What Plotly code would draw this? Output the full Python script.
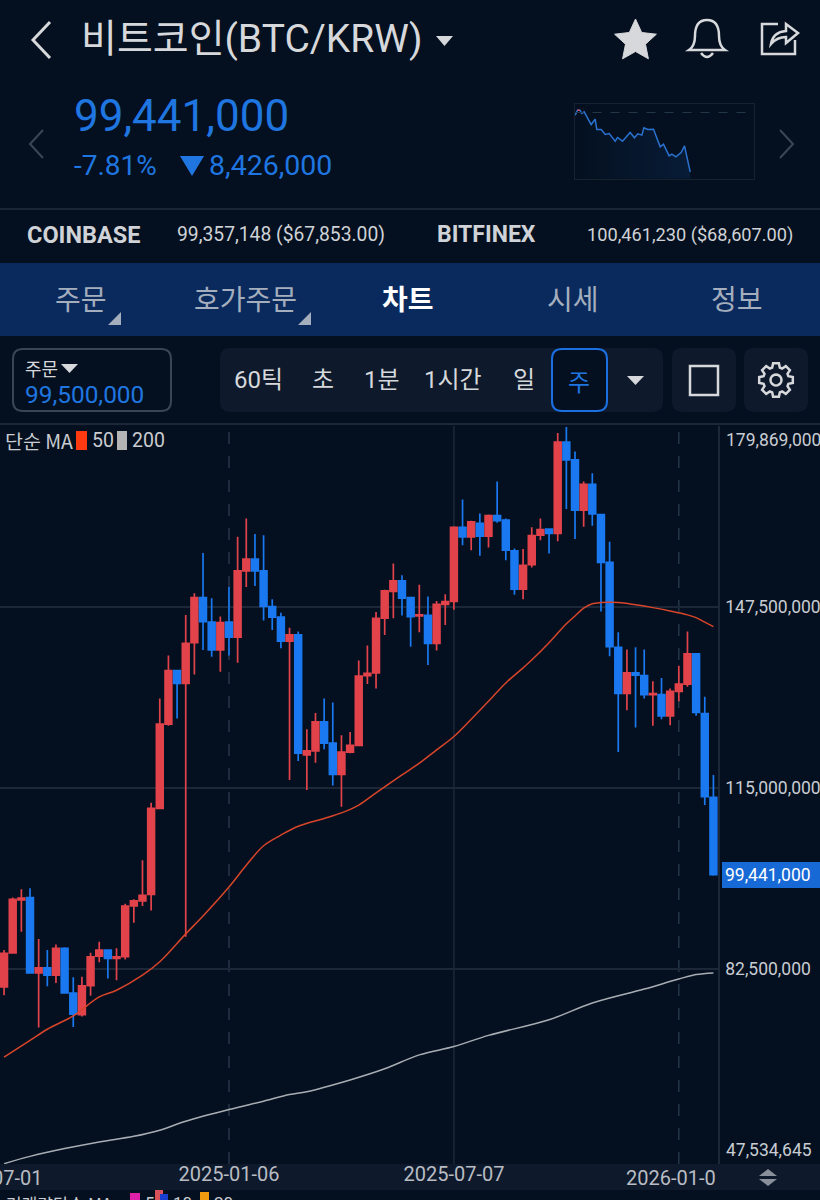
import re
import numpy as np
import pandas as pd
import plotly.graph_objects as go

# weekly candles, million KRW
week_dates = pd.date_range("2024-07-08", periods=83, freq="7D")
opens = [79.3,85.4,94.9,95.3,81.8,82.7,81.4,86.2,78.2,74.3,
         79.5,84.8,85.9,84.4,84.7,93.8,94.7,95.9,111.3,126.4,
         136.0,133.7,141.0,149.1,144.7,139.7,144.7,142.0,153.9,156.0,
         153.9,147.5,145.6,141.3,142.4,120.9,121.6,126.8,123.0,117.4,
         121.4,122.6,135.1,135.6,145.4,150.2,152.1,149.1,145.8,145.9,
         140.9,147.9,148.4,161.7,160.0,162.4,160.1,163.8,163.0,157.5,
         150.6,155.0,160.3,161.4,160.6,177.0,173.8,164.8,169.4,164.0,
         155.4,140.2,131.9,135.6,135.1,131.7,131.7,127.9,132.3,133.6,
         139.0,128.3,113.3]
highs = [85.9,95.3,96.8,97.0,87.9,85.9,86.9,86.4,81.0,81.1,
         85.4,87.4,85.9,86.2,94.2,95.0,102.0,112.3,131.0,138.7,
         136.0,146.0,149.9,157.1,149.0,145.7,151.0,160.0,163.3,160.5,
         160.3,148.8,146.4,143.7,143.0,125.5,128.4,131.0,130.3,124.4,
         125.0,137.8,140.5,146.5,150.5,155.2,153.1,149.1,151.4,149.3,
         148.5,149.7,161.9,166.7,162.9,164.2,164.0,169.9,163.3,157.9,
         157.8,161.7,163.3,161.4,178.6,179.7,175.3,169.9,171.4,164.0,
         159.1,142.9,139.8,140.2,139.8,134.1,134.7,132.8,136.9,143.0,
         139.0,131.3,117.3]
lows = [77.8,85.3,89.2,81.7,72.0,79.4,80.0,78.2,72.1,74.0,
        77.7,83.7,80.8,80.5,84.2,90.8,93.8,93.0,111.3,126.1,
        127.4,88.3,135.3,139.7,138.5,135.8,138.7,137.4,151.0,151.2,
        145.0,143.3,140.0,116.4,119.8,114.6,119.5,121.9,115.4,111.6,
        121.2,122.6,133.6,132.8,142.4,145.4,145.9,140.3,142.9,137.0,
        139.6,144.2,146.9,158.5,157.6,156.6,158.1,162.5,155.8,149.6,
        148.8,154.5,159.4,157.0,159.2,165.0,159.6,161.8,162.0,146.6,
        138.6,121.4,128.9,125.8,131.0,126.1,127.3,126.2,130.5,133.1,
        127.9,111.9,99.2]
closes = [85.3,95.0,95.2,81.8,82.7,81.4,86.2,78.2,74.4,79.5,
          84.7,85.9,84.4,84.7,93.8,94.7,95.7,111.3,126.4,136.0,
          133.7,140.9,149.1,144.8,139.7,144.6,142.0,153.9,156.0,153.9,
          147.5,145.6,141.3,142.4,121.2,121.6,126.8,123.0,117.4,121.4,
          122.6,135.0,135.5,145.4,150.3,152.1,149.0,145.7,146.0,140.9,
          147.9,148.4,161.7,160.0,162.7,160.1,163.8,162.9,157.6,150.6,
          154.9,160.2,161.3,160.6,177.0,173.8,164.8,169.4,164.1,155.4,
          140.3,131.9,135.6,135.2,131.7,131.9,127.9,132.3,133.6,139.0,
          128.5,113.4,99.441]

# moving averages, read at these candle numbers
ma50_weeks = [0,3,5,8,11,13,16,18,21,23,26,28,30,32,34,37,39,41,43,46,48,50,52,54,56,58,60,61,63,65,66,67,68,69,71,73,75,77,79,80,81,82]
ma50_vals = [66.7,69.7,71.7,74.1,77.5,78.7,81.4,83.8,88.8,92.0,97.2,101.1,104.6,106.5,108.1,109.5,110.5,111.9,114.1,117.3,119.4,121.8,124.2,127.3,130.5,133.8,136.5,137.9,141.0,144.4,145.8,147.2,148.0,148.2,148.2,147.8,147.3,146.7,146.0,145.5,144.7,143.9]
ma200_weeks = [0,3,7,11,15,18,21,26,30,33,35,40,44,48,52,56,63,68,74,78,80,82]
ma200_vals = [47.6,48.9,50.3,51.5,52.5,53.6,55.2,57.3,58.8,60.0,60.5,62.6,64.6,67.1,68.6,70.6,73.4,76.4,78.9,80.7,81.5,81.8]

price_ticks = [147500000, 115000000, 82500000]
axis_top = 179869000
axis_bottom = 47534645
last_price = 99441000
date_ticks = ["2025-01-06", "2025-07-07"]
dashed_dates = ["2025-01-06", "2026-01-05"]
solid_dates = ["2025-07-07"]

# mini chart top right, hours into the session and price in million KRW
spark_hours = [0.09,0.40,0.72,0.98,1.30,1.65,2.23,2.77,2.99,3.58,4.11,4.65,5.45,5.77,6.44,7.46,8.04,8.49,9.03,9.30,9.83,10.59,11.49,11.93,12.69,13.05,13.59,14.30,14.75,15.51]
spark_vals = [107.49,108.20,108.20,107.73,107.96,107.25,106.16,106.92,105.45,105.45,104.74,104.88,103.80,104.32,103.80,105.03,104.27,104.84,104.65,105.69,105.45,105.50,102.99,103.37,101.71,101.95,101.57,102.19,103.13,99.44]
spark_base = 107.867

BG = "#04101f"
GRID = "#1c2838"
RED = "#e2434b"
BLUE = "#1a78f0"
TXT_BLUE = "#1f76e0"
LIGHT = "#d6d8db"
FONT = "Roboto, 'Noto Sans CJK KR'"
KR = "'Noto Sans CJK KR'"

W, H = 820, 1200


def px(x):
    return x / W


def py(y):
    return 1 - y / H


def path_px(d):
    # turn a path written in screen pixels into paper coordinates
    out = []
    is_x = True
    for tok in re.findall(r"[A-Za-z]|-?[\d.]+", d):
        if tok.isalpha():
            out.append(tok)
            is_x = True
        else:
            out.append(f"{px(float(tok)):.5f}" if is_x else f"{py(float(tok)):.5f}")
            is_x = not is_x
    return " ".join(out)


def round_rect(x0, y0, x1, y1, r):
    return (f"M {x0+r} {y0} L {x1-r} {y0} Q {x1} {y0} {x1} {y0+r} L {x1} {y1-r} Q {x1} {y1} {x1-r} {y1} "
            f"L {x0+r} {y1} Q {x0} {y1} {x0} {y1-r} L {x0} {y0+r} Q {x0} {y0} {x0+r} {y0} Z")


shapes = []
notes = []


def add_path(d, fill=None, line=None, width=0, layer="above"):
    shapes.append(dict(type="path", xref="paper", yref="paper", path=path_px(d), layer=layer,
                       fillcolor=fill or "rgba(0,0,0,0)",
                       line=dict(color=line or "rgba(0,0,0,0)", width=width)))


def add_rect(x0, y0, x1, y1, fill, layer="below"):
    shapes.append(dict(type="rect", xref="paper", yref="paper", x0=px(x0), x1=px(x1), y0=py(y1), y1=py(y0),
                       fillcolor=fill, line=dict(width=0), layer=layer))


def add_text(x, y, s, size, color=LIGHT, anchor="left", font=FONT, bold=False):
    notes.append(dict(xref="paper", yref="paper", x=px(x), y=py(y), text=f"<b>{s}</b>" if bold else s,
                      showarrow=False, xanchor=anchor, yanchor="middle", borderpad=0,
                      font=dict(family=font, size=size, color=color)))


# page bands
add_rect(0, 208, 820, 210, "#1a2636")
add_rect(0, 263, 820, 336, "#0a2a5e")
add_rect(0, 423, 820, 425, GRID)
add_rect(0, 1164, 820, 1190, "#0e1a2c")
add_rect(722, 862, 820, 888, "#1769d6", layer="above")

# header
add_path("M 50 22 L 33 40 L 50 58", line=LIGHT, width=3)
add_text(80, 39, "비트코인(BTC/KRW)", 39)
add_path("M 436 36 L 453 36 L 444.5 46 Z", fill=LIGHT)
add_text(73, 116, "99,441,000", 44, TXT_BLUE)
add_text(73, 166, "-7.81%", 28, TXT_BLUE)
add_path("M 180 156 L 204 156 L 192 176 Z", fill=TXT_BLUE)
add_text(208, 166, "8,426,000", 28.5, TXT_BLUE)
add_path("M 43 130 L 30 144 L 43 158", line="#3b4656", width=2)
add_path("M 780 130 L 793 144 L 780 158", line="#3b4656", width=2)

# star, bell, share icons
star_pts = []
for k in range(10):
    r = 22 if k % 2 == 0 else 10.5
    a = -np.pi / 2 + k * np.pi / 5
    star_pts.append((635.5 + r * np.cos(a), 41 + r * np.sin(a)))
add_path("M " + " L ".join(f"{a:.1f} {b:.1f}" for a, b in star_pts) + " Z", fill=LIGHT, line=LIGHT, width=1)
add_path("M 689 50 Q 695 46 695 36 Q 695 20 707 20 Q 719 20 719 36 Q 719 46 725 50 Z", line=LIGHT, width=2.5)
add_path("M 701 53 Q 707 61 713 53", line=LIGHT, width=2.5)
add_path("M 778 24 L 762 24 L 762 54 L 795 54 L 795 40", line=LIGHT, width=2.5)
add_path("M 771 44 Q 773 32 786 31 L 786 24 L 798 33 L 786 43 L 786 37 Q 777 37 771 44 Z", line=LIGHT, width=2.5)

# exchange row
add_text(26, 235, "COINBASE", 23.5, "#cfd2d6", bold=True)
add_text(176, 235, "99,357,148 ($67,853.00)", 19.3, "#cfd2d6")
add_text(436, 235, "BITFINEX", 23, "#cfd2d6", bold=True)
add_text(794, 235, "100,461,230 ($68,607.00)", 18.2, "#cfd2d6", anchor="right")

# tabs
tab_names = ["주문", "호가주문", "차트", "시세", "정보"]
tab_centers = [81, 245, 408, 573, 737]
for name, cx in zip(tab_names, tab_centers):
    on = name == "차트"
    add_text(cx, 298, name, 28, "#ffffff" if on else "#a4aebd", anchor="center", font=KR, bold=on)
add_path("M 108 325 L 121 325 L 121 312 Z", fill="#a4aebd")
add_path("M 298 325 L 311 325 L 311 312 Z", fill="#a4aebd")

# toolbar
add_path(round_rect(13, 349, 171, 411, 10), line="#3a4452", width=2)
add_text(24, 368, "주문", 18, LIGHT, font=KR)
add_path("M 61 364 L 78 364 L 69.5 373 Z", fill=LIGHT)
add_text(24, 394, "99,500,000", 24.4, TXT_BLUE)
add_path(round_rect(220, 348, 663, 412, 10), fill="#0e1a2c")
add_path(round_rect(672, 348, 736, 412, 10), fill="#0e1a2c")
add_path(round_rect(744, 348, 808, 412, 10), fill="#0e1a2c")
add_path(round_rect(552, 349, 607, 411, 10), fill=BG, line="#1b6fe0", width=2)
for name, cx in zip(["60틱", "초", "1분", "1시간", "일"], [258, 323, 382, 453, 524]):
    add_text(cx, 380, name, 24, LIGHT, anchor="center", font=FONT)
add_text(579, 380, "주", 24, TXT_BLUE, anchor="center", font=KR)
add_path("M 627 376 L 644 376 L 635.5 385 Z", fill=LIGHT)
add_path("M 690 366 L 718 366 L 718 395 L 690 395 Z", line=LIGHT, width=2.5)

# gear icon
gear_pts = []
for k in range(8):
    a = k * np.pi / 4 - np.pi / 2
    for da, r in [(-0.30, 13), (-0.17, 17), (0.17, 17), (0.30, 13)]:
        gear_pts.append((776 + r * np.cos(a + da), 380 + r * np.sin(a + da)))
add_path("M " + " L ".join(f"{a:.1f} {b:.1f}" for a, b in gear_pts) + " Z", line=LIGHT, width=2.5)
hole = [(776 + 5.5 * np.cos(t), 380 + 5.5 * np.sin(t)) for t in np.linspace(0, 2 * np.pi, 17)[:-1]]
add_path("M " + " L ".join(f"{a:.1f} {b:.1f}" for a, b in hole) + " Z", line=LIGHT, width=2.5)

# MA legend
add_text(4, 440, "단순 MA", 19.5, "#c9ccd0", font=KR)
add_rect(76, 431, 87, 450, "#ff3a10")
add_text(91, 440, "50", 19.5, "#c9ccd0")
add_rect(117, 431, 127, 450, "#b5b5b5")
add_text(131, 440, "200", 19.5, "#c9ccd0")

# bottom bar
add_text(44, 1178, "07-01", 20, "#b9bdc3", anchor="right")
add_text(717, 1178, "2026-01-0", 20, "#b9bdc3", anchor="right")
add_path("M 768 1169 L 777 1176 L 759 1176 Z", fill="#8a9099")
add_path("M 759 1179 L 777 1179 L 768 1186 Z", fill="#8a9099")
add_text(5, 1203, "거래량단순 MA", 17, "#c9ccd0", font=KR)
add_rect(130, 1193, 140, 1200, "#e020a8")
add_text(144, 1203, "5", 17, "#c9ccd0")
add_rect(155, 1190, 163, 1200, "#d9525a")
add_rect(160, 1194, 168, 1200, "#1a3fd0")
add_text(172, 1203, "10", 17, "#c9ccd0")
add_rect(200, 1192, 209, 1200, "#f09a10")
add_text(213, 1203, "20", 17, "#c9ccd0")

# chart gridlines, the date ones come from the lists above
for d in dashed_dates:
    shapes.append(dict(type="line", xref="x", yref="y domain", x0=d, x1=d, y0=0, y1=1, layer="below",
                       line=dict(color="#26364a", width=1.5, dash="12px,12px")))
for d in solid_dates:
    shapes.append(dict(type="line", xref="x", yref="y domain", x0=d, x1=d, y0=0, y1=1, layer="below",
                       line=dict(color=GRID, width=1.5)))

fig = go.Figure()
fig.add_trace(go.Candlestick(
    x=week_dates,
    open=np.array(opens) * 1e6,
    high=np.array(highs) * 1e6,
    low=np.array(lows) * 1e6,
    close=np.array(closes) * 1e6,
    increasing=dict(line=dict(color=RED, width=1.7), fillcolor=RED),
    decreasing=dict(line=dict(color=BLUE, width=1.7), fillcolor=BLUE),
    whiskerwidth=0,
    hoverinfo="skip",
))
fig.add_trace(go.Scatter(x=week_dates[ma200_weeks], y=np.array(ma200_vals) * 1e6, mode="lines",
                         line=dict(color="#a9adb3", width=1.5, shape="spline", smoothing=1)))
fig.add_trace(go.Scatter(x=week_dates[ma50_weeks], y=np.array(ma50_vals) * 1e6, mode="lines",
                         line=dict(color="#d8452a", width=1.5, shape="spline", smoothing=1)))

# mini chart
fig.add_trace(go.Scatter(x=spark_hours, y=spark_vals, xaxis="x2", yaxis="y2", mode="lines", fill="tozeroy",
                         fillgradient=dict(type="horizontal",
                                           colorscale=[[0, "rgba(20,70,140,0)"], [1, "rgba(20,70,140,0.22)"]]),
                         line=dict(color="#2a72d0", width=1.5)))
fig.add_trace(go.Scatter(x=spark_hours[1:3], y=spark_vals[1:3], xaxis="x2", yaxis="y2", mode="lines",
                         line=dict(color="#d8505a", width=1.5)))
fig.add_trace(go.Scatter(x=[0, 24], y=[spark_base, spark_base], xaxis="x2", yaxis="y2", mode="lines",
                         line=dict(color="#26364a", width=1, dash="dash")))

# price labels that sit inside the ends of the axis
for val, shift in [(axis_top, -14), (axis_bottom, 14)]:
    notes.append(dict(xref="paper", yref="y", x=px(724), y=val, yshift=shift, text=f"{val:,}", showarrow=False,
                      xanchor="left", yanchor="middle", font=dict(family=FONT, size=17.5, color="#c8ccd2")))
notes.append(dict(xref="paper", yref="y", x=px(723), y=last_price, text=f"{last_price:,}", showarrow=False,
                  xanchor="left", yanchor="middle", font=dict(family=FONT, size=17.5, color="#ffffff")))

fig.update_layout(
    width=W, height=H, autosize=False,
    margin=dict(l=0, r=0, t=0, b=0),
    paper_bgcolor=BG, plot_bgcolor=BG,
    showlegend=False,
    boxgap=0.22,
    boxgroupgap=0,
    hovermode=False,
    shapes=shapes,
    annotations=notes,
    xaxis=dict(
        domain=[0, px(718)], type="date", range=["2024-07-04 17:00", "2026-02-05 17:00"],
        rangeslider=dict(visible=False), showgrid=False, zeroline=False, showline=False,
        tickvals=date_ticks, ticktext=date_ticks, ticks="", ticklabelstandoff=-4,
        tickfont=dict(family=FONT, size=20, color="#b9bdc3"),
    ),
    yaxis=dict(
        domain=[py(1164), py(426)], range=[axis_bottom, axis_top], side="right",
        tickvals=price_ticks, tickformat=",d", gridcolor=GRID, gridwidth=1.5, zeroline=False,
        showline=True, linecolor=GRID, linewidth=1.5,
        ticks="outside", ticklen=2, tickcolor="rgba(0,0,0,0)",
        tickfont=dict(family=FONT, size=17.5, color="#c8ccd2"),
    ),
    xaxis2=dict(domain=[px(574.5), px(753.5)], range=[0, 24], anchor="y2", showgrid=False, zeroline=False,
                showticklabels=False, ticks="", showline=True, mirror=True, linecolor="#17222f", linewidth=1),
    yaxis2=dict(domain=[py(178.5), py(103.5)], range=[98.49, 109.15], anchor="x2", showgrid=False, zeroline=False,
                showticklabels=False, ticks="", showline=True, mirror=True, linecolor="#17222f", linewidth=1),
)

fig.write_html("out.html", config=dict(displayModeBar=False),
               post_script="document.body.style.margin='0';document.body.style.overflow='hidden';")
